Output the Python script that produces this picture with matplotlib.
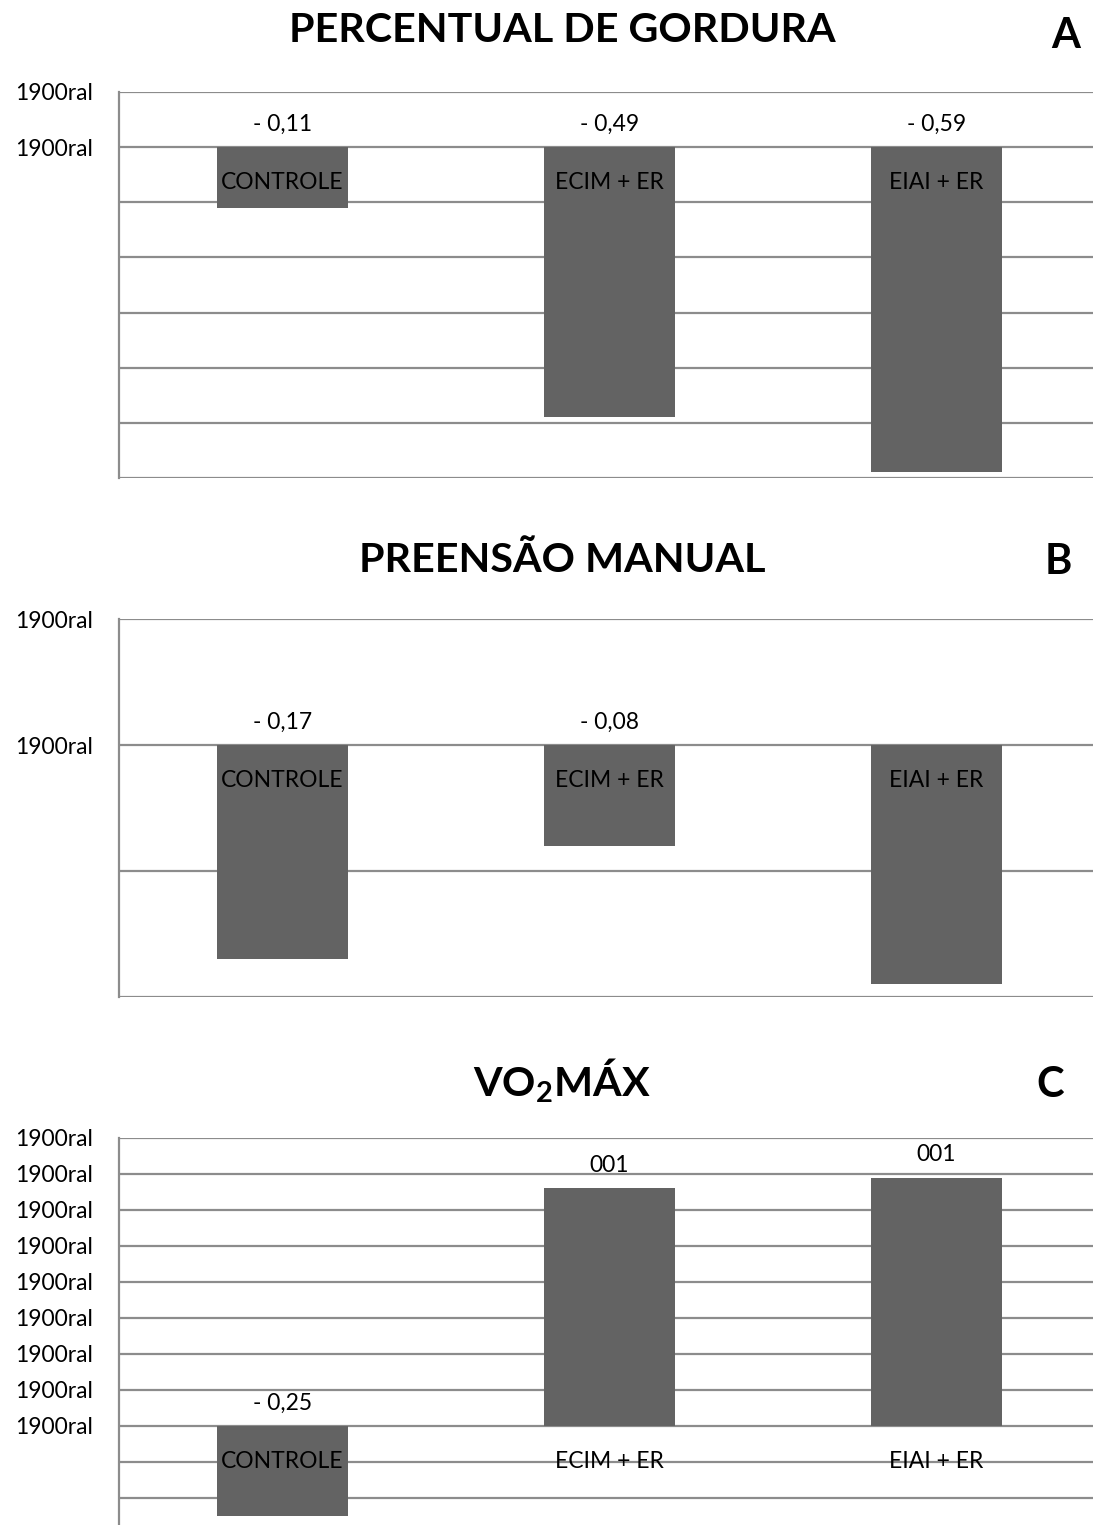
import matplotlib
matplotlib.use('Agg')
import matplotlib.pyplot as plt
from matplotlib.ticker import MultipleLocator, FuncFormatter

categories = ['CONTROLE', 'ECIM + ER', 'EIAI + ER']
gordura = [-0.11, -0.49, -0.59]
gordura_labels = ['- 0,11', '- 0,49', '- 0,59']
preensao = [-0.17, -0.08, -0.19]
preensao_labels = ['- 0,17', '- 0,08', '']
vo2 = [-0.25, 0.66, 0.69]
vo2_labels = ['- 0,25', '001', '001']
tick_text = '1900ral'

plt.rcParams['font.family'] = ['Lato', 'DejaVu Sans']
plt.rcParams['mathtext.fontset'] = 'custom'
plt.rcParams['mathtext.rm'] = 'Lato:bold'
plt.rcParams['mathtext.it'] = 'Lato:bold'
plt.rcParams['mathtext.bf'] = 'Lato:bold'

W, H = 1093, 1525
DPI = 100
fig = plt.figure(figsize=(W / DPI, H / DPI), dpi=DPI)

BAR = '#636363'
GRID = '#8c8c8c'
PT = 72.0 / DPI  # points per pixel
FS = 16.5


def panel(top_px, bot_px, ylim, values, vlabels, title, title_y, letter, letter_xy):
    ax = fig.add_axes([119 / W, 1 - bot_px / H, 981 / W, (bot_px - top_px) / H])
    x = list(range(len(categories)))
    ax.bar(x, values, width=0.4, color=BAR, zorder=3)
    ax.set_xlim(-0.5, len(categories) - 0.5)
    ax.set_ylim(*ylim)
    ax.yaxis.set_major_locator(MultipleLocator(0.1))
    ax.yaxis.set_major_formatter(FuncFormatter(lambda v, p: tick_text if v > -1e-6 else ''))
    ax.tick_params(axis='y', length=0, pad=26 * PT, labelsize=FS, labelcolor='black')
    ax.set_xticks([])
    ax.grid(axis='y', color=GRID, linewidth=1.6, zorder=1)
    for s in ['top', 'right', 'bottom']:
        ax.spines[s].set_visible(False)
    ax.spines['left'].set_color(GRID)
    ax.spines['left'].set_linewidth(1.6)
    for xi, v, lab, cat in zip(x, values, vlabels, categories):
        base = max(v, 0)
        if lab:
            ax.annotate(lab, (xi, base), xytext=(0, 23 * PT), textcoords='offset points',
                        ha='center', va='center', fontsize=FS, color='black', zorder=5)
        ax.annotate(cat, (xi, 0), xytext=(0, -35 * PT), textcoords='offset points',
                    ha='center', va='center', fontsize=FS, color='black', zorder=5)
    fig.text(562 / W, 1 - title_y / H, title, ha='center', va='center',
             fontsize=29.7, fontweight='bold', color='black')
    fig.text(letter_xy[0] / W, 1 - letter_xy[1] / H, letter, ha='center', va='center',
             fontsize=30, fontweight='bold', color='black')
    return ax


panel(92, 478, (-0.6, 0.1), gordura, gordura_labels, 'PERCENTUAL DE GORDURA', 30, 'A', (1066, 36))
panel(619, 997, (-0.2, 0.1), preensao, preensao_labels, 'PREENSÃO MANUAL', 560, 'B', (1058, 562))
panel(1138, 1534, (-0.3, 0.8), vo2, vo2_labels, r'VO$_2$MÁX', 1081, 'C', (1050, 1085))

fig.savefig('out.png', dpi=DPI)
